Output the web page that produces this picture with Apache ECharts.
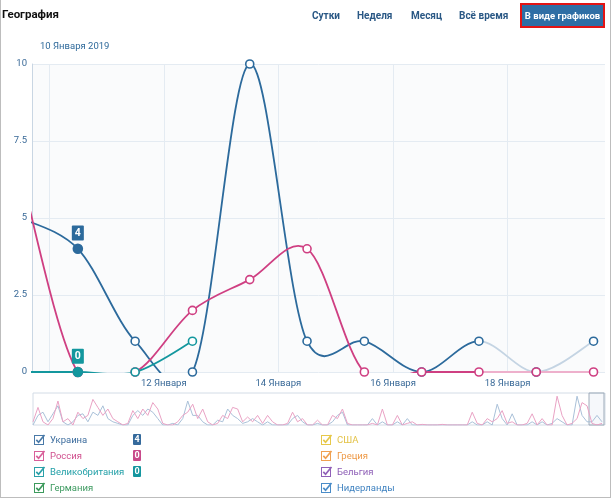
<!DOCTYPE html>
<html><head><meta charset="utf-8">
<script src="https://cdn.jsdelivr.net/npm/echarts@6/dist/echarts.min.js"></script>
<style>
html,body{margin:0;padding:0;background:#fff;}
body{width:613px;height:498px;position:relative;overflow:hidden;font-family:Roboto,"Liberation Sans",sans-serif;}
#frame{position:absolute;left:0;top:-1px;width:609px;height:497px;border:1px solid #bdbdbd;pointer-events:none;}
#chart{position:absolute;left:0;top:0;width:613px;height:498px;}
.t{position:absolute;white-space:nowrap;line-height:12px;}
.tab{font-size:10px;font-weight:700;color:#2a5885;top:10px;}
#title{left:2px;top:7px;font-size:11.5px;font-weight:700;color:#111;line-height:14px;}
#date{left:40px;top:40px;font-size:9.5px;color:#2f6a9b;}
#btn{position:absolute;left:520px;top:3px;width:81px;height:21px;border:2px solid #e31414;background:#2e6ea5;color:#fff;font-size:9.5px;font-weight:700;text-align:center;line-height:21px;white-space:nowrap;}
.lg{font-size:9.5px;}
.badge{position:absolute;width:8px;height:11px;border-radius:1px;color:#fff;font-size:9px;font-weight:700;text-align:center;line-height:11px;}
.cb{position:absolute;}
</style></head>
<body>
<div id="chart"></div>
<div id="title" class="t">География</div>
<div class="t tab" style="left:312px">Сутки</div>
<div class="t tab" style="left:357px">Неделя</div>
<div class="t tab" style="left:411px">Месяц</div>
<div class="t tab" style="left:459px">Всё время</div>
<div id="btn">В виде графиков</div>
<div id="date" class="t">10 Января 2019</div>
<div id="legend"></div>
<div id="frame"></div>
<script>
// ---- data ----
const monthLabel = 'Января';
const dayPositions = [9.5, 10.5, 11.5, 12.5, 13.5, 14.5, 15.5, 16.5, 17.5, 18.5, 19.5];
const ukraine = [5, 4, 1, 0, 10, 1, 1, 0, 1, 0, 1];
const russia  = [6.5, 0, 0, 2, 3, 4, 0, 0, 0, 0, 0];
const britain = [0, 0, 0, 1, null, null, null, null, null, null, null];
const hoverIndex = 1;
const partialFrom = 17.5;
const xGridDays = [10, 12, 14, 16, 18];
const xLabelDays = [12, 14, 16, 18];
const yTicks = [0, 2.5, 5, 7.5, 10];
const overviewRussia = [1,5.5,1,0,2,7.5,1,2,0,4,2,3,8,5.5,3,5,2,1,0,0.5,4.5,2,5,3,7,5,0.5,0,0,1,3,4,6.5,2,5,1,0,0.5,3,2,5.5,5,1,2.5,1,3,0.5,3,1,0,0,0.5,4,1,2,0,0,1.5,0,0,3,2,5,0.5,0,0,0,0,0.5,0,5,0,0,3,0,0.5,1,0,0.2,0,0,0,0.2,0,0,0,0,0,4,0.5,0,2,1,2,4.5,0.5,1,0,0,0.5,3.5,0,2,0,0,9,3,0,0.5,2,7,6,0.5,0,0.5];
const overviewUkraine = [0,3,4,1,3.5,6,1,0,1,3,3.5,1,4,3,6,2,1,0.5,0,0,3,4.5,3,5,4,2,0,0,0.5,0,2,7.5,3,3,1,0,0,1.5,1,5,3,2,0.5,1,2,1,0,1,0,0,0,0,2,3,1,0,0,0.5,0,0,1,3,4,0,0,0,0,0,2,0,1,0,0,1,0,2,0,0,0,0,0,0,0,0,0,0,0,0,1,0,0,1,0,6.5,2,0,3.5,0,0,0,1,0,1,0,0.5,2,1,0,0,9,3,1,1,3,1];
const overviewWindow = [111.4, 114.4];
const legendNames = ['Украина','Россия','Великобритания','Германия','США','Греция','Бельгия','Нидерланды'];
const legendBox = ['#4a7aa8','#d9609a','#2aa0a8','#3c9a5c','#e6c84a','#f0a050','#9060b8','#4a8cc8'];
const legendText = ['#3d6d9e','#d0508e','#23a0a8','#3d9a60','#e3c246','#ee9a48','#8d5eb6','#3f82c0'];

const C_UA = '#2c6a9c', C_RU = '#cf3f82', C_GB = '#13979e';
const F_UA = '#c4d4e3', F_RU = '#eeb0cc';
const splineAlpha = 0.1;

// ---- legend (HTML) ----
const badgeVals = [ukraine[hoverIndex], russia[hoverIndex], britain[hoverIndex]];
const badgeCols = ['#356a9c', '#c8498a', '#14969f'];
let lh = '';
legendNames.forEach((n, i) => {
  const col = i < 4 ? 0 : 1;
  const row = i % 4;
  const cy = 440 + row * 16;
  const bx = col === 0 ? 34 : 321;
  lh += `<svg class="cb" style="left:${bx}px;top:${cy-7}px" width="14" height="13"><rect x="0.5" y="2.5" width="9" height="9" fill="#fff" stroke="${legendBox[i]}" stroke-width="1"/><path d="M2.3 6.8 L4.6 9.3 L10.5 2" fill="none" stroke="${legendBox[i]}" stroke-width="1.7"/></svg>`;
  lh += `<div class="t lg" style="left:${bx+16}px;top:${cy-6}px;color:${legendText[i]}">${n}</div>`;
  if (i < 3) lh += `<div class="badge" style="left:133px;top:${cy-6}px;background:${badgeCols[i]}">${badgeVals[i]}</div>`;
});
document.getElementById('legend').innerHTML = lh;

// ---- chart ----
const chart = echarts.init(document.getElementById('chart'), null, {renderer: 'canvas'});

function controlPoints(p0, p1, p2, p3, hasPrev, hasNext) {
  const dist = (a, b) => Math.hypot(b[0] - a[0], b[1] - a[1]);
  const d12 = dist(p1, p2);
  const l12a = Math.pow(d12, splineAlpha), l12b = Math.pow(d12, 2 * splineAlpha);
  let c1, c2;
  if (hasPrev) {
    const d01 = dist(p0, p1);
    const l01a = Math.pow(d01, splineAlpha), l01b = Math.pow(d01, 2 * splineAlpha);
    const A = 2 * l01b + 3 * l01a * l12a + l12b, N = 3 * l01a * (l01a + l12a);
    c1 = [0, 1].map(k => (p1[k] * A - p0[k] * l12b + p2[k] * l01b) / N);
  } else {
    c1 = [0, 1].map(k => p1[k] + (p2[k] - p1[k]) / 6);
  }
  if (hasNext) {
    const d23 = dist(p2, p3);
    const l23a = Math.pow(d23, splineAlpha), l23b = Math.pow(d23, 2 * splineAlpha);
    const B = 2 * l23b + 3 * l23a * l12a + l12b, M = 3 * l23a * (l23a + l12a);
    c2 = [0, 1].map(k => (p2[k] * B + p1[k] * l23b - p3[k] * l12b) / M);
  } else {
    c2 = [0, 1].map(k => p2[k] - (p2[k] - p1[k]) / 6);
  }
  return [c1, c2];
}

function curveSeries(values, color, faded) {
  return {
    type: 'custom', clip: true, silent: true, lineStyle: {width: 2}, z: 2,
    data: dayPositions.map((d, i) => [d, values[i] == null ? 0 : values[i]]),
    encode: {x: 0, y: 1},
    renderItem: (params, api) => {
      const i = params.dataIndex, n = values.length;
      const valid = j => j >= 0 && j < n && values[j] != null;
      if (!valid(i) || !valid(i + 1)) return null;
      const pt = j => api.coord([dayPositions[j], values[j]]);
      const p1 = pt(i), p2 = pt(i + 1);
      const hasPrev = valid(i - 1), hasNext = valid(i + 2);
      const p0 = hasPrev ? pt(i - 1) : p1;
      const p3 = hasNext ? pt(i + 2) : p2;
      const [c1, c2] = controlPoints(p0, p1, p2, p3, hasPrev, hasNext);
      return {
        type: 'bezierCurve',
        shape: {x1: p1[0], y1: p1[1], x2: p2[0], y2: p2[1], cpx1: c1[0], cpy1: c1[1], cpx2: c2[0], cpy2: c2[1]},
        style: {fill: 'none', stroke: dayPositions[i] >= partialFrom ? faded : color, lineWidth: 1.8, lineCap: 'round'}
      };
    }
  };
}

function pointSeries(values, color, showBadge) {
  const data = [];
  values.forEach((v, i) => {
    if (v == null) return;
    if (i === hoverIndex) {
      data.push({
        value: [dayPositions[i], v], symbolSize: 9,
        itemStyle: {color: color, borderColor: color},
        label: showBadge ? {
          show: true, position: 'top', distance: 3, formatter: '{@[1]}',
          backgroundColor: color, color: '#fff', fontSize: 10.5, fontWeight: 'bold',
          padding: [2, 3, 2, 3], borderRadius: 1, fontFamily: 'Roboto'
        } : {show: false}
      });
    } else {
      data.push({value: [dayPositions[i], v]});
    }
  });
  return {
    type: 'scatter', clip: true, silent: true, z: 5,
    symbol: 'circle', symbolSize: 8,
    itemStyle: {color: '#fff', borderColor: color, borderWidth: 1.6, opacity: 1},
    data: data
  };
}

const labelColor = '#3a6a98';
const gridColor = '#e4ebf2';

const option = {
  animation: false,
  grid: [
    {left: 32, right: 8, top: 64, bottom: 126, show: true, backgroundColor: '#fafbfc', borderWidth: 0},
    {left: 33, right: 8, top: 393, height: 32, show: true, backgroundColor: '#fff', borderColor: '#d3dce6', borderWidth: 1}
  ],
  xAxis: [
    {
      type: 'value', gridIndex: 0, min: 9.7, max: 19.7,
      axisLine: {show: false},
      axisTick: {show: false, customValues: xGridDays},
      axisLabel: {customValues: xLabelDays, formatter: v => v + ' ' + monthLabel, color: labelColor, fontSize: 9.5, fontFamily: 'Roboto', margin: 7},
      splitLine: {show: true, lineStyle: {color: gridColor, width: 1}}
    },
    {type: 'value', gridIndex: 1, min: 0, max: 114.6, show: false}
  ],
  yAxis: [
    {
      type: 'value', gridIndex: 0, min: yTicks[0], max: yTicks[yTicks.length - 1], interval: 2.5,
      axisLine: {show: true, lineStyle: {color: '#c9d6e3'}},
      axisTick: {show: false},
      axisLabel: {color: labelColor, fontSize: 9.5, fontFamily: 'Roboto', margin: 5},
      splitLine: {show: true, lineStyle: {color: gridColor, width: 1}}
    },
    {type: 'value', gridIndex: 1, min: 0, max: 10, show: false}
  ],
  series: [
    curveSeries(ukraine, C_UA, F_UA),
    curveSeries(russia, C_RU, F_RU),
    curveSeries(britain, C_GB, C_GB),
    pointSeries(ukraine, C_UA, true),
    pointSeries(russia, C_RU, false),
    pointSeries(britain, C_GB, true),
    {
      type: 'line', xAxisIndex: 1, yAxisIndex: 1, silent: true, showSymbol: false,
      lineStyle: {width: 1, color: '#a9c0d8'},
      data: overviewUkraine.map((v, i) => [i, v])
    },
    {
      type: 'line', xAxisIndex: 1, yAxisIndex: 1, silent: true, showSymbol: false,
      lineStyle: {width: 1, color: '#e9a2c4'},
      data: overviewRussia.map((v, i) => [i, v]),
      markArea: {
        silent: true,
        itemStyle: {color: 'rgba(220,228,238,0.25)', borderColor: '#9eabb9', borderWidth: 1},
        data: [[{xAxis: overviewWindow[0], yAxis: 0}, {xAxis: overviewWindow[1], yAxis: 10}]]
      }
    }
  ]
};
chart.setOption(option);
</script>
</body></html>
